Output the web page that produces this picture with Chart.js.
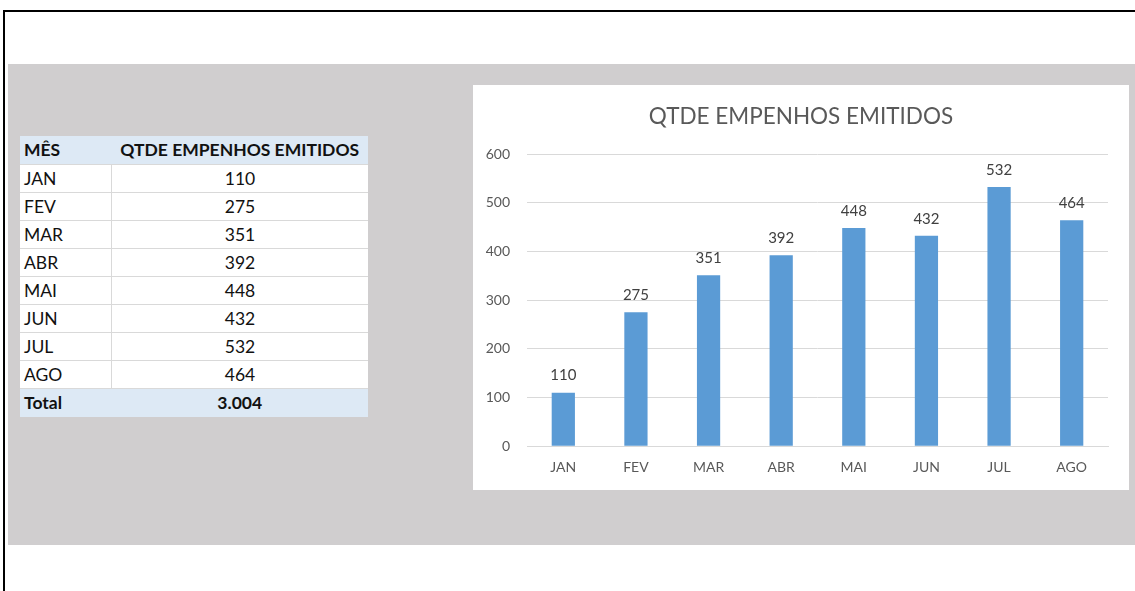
<!DOCTYPE html>
<html>
<head>
<meta charset="utf-8">
<script src="https://cdn.jsdelivr.net/npm/chart.js@4"></script>
<style>
  body { margin: 0; background: #fff; width: 1135px; height: 591px; position: relative; overflow: hidden; font-family: Lato, "Open Sans", sans-serif; }
  .frame-top { position: absolute; left: 3px; top: 10px; width: 1132px; height: 2px; background: #000; }
  .frame-left { position: absolute; left: 3px; top: 10px; width: 2px; height: 581px; background: #000; }
  .panel { position: absolute; left: 8px; top: 64px; width: 1127px; height: 481px; background: #d0cecf; }
  table { position: absolute; left: 20px; top: 136px; width: 348px; border-collapse: collapse; font-size: 17.5px; color: #111; background: #fff; }
  td, th { height: 27px; padding: 0 4px; border-bottom: 1px solid #d9d9d9; line-height: 20px; }
  th { background: #dde9f5; font-weight: bold; text-align: left; height: 28px; }
  th:nth-child(2) { text-align: center; }
  td:first-child { border-right: 1px solid #d9d9d9; width: 83px; }
  td:nth-child(2) { text-align: center; }
  tr.total td { background: #dde9f5; font-weight: bold; border-right: none; border-bottom: none; height: 28px; }
  .chart-box { position: absolute; left: 473px; top: 85px; width: 656px; height: 405px; background: #fff; }
</style>
</head>
<body>
<div class="frame-top"></div>
<div class="frame-left"></div>
<div class="panel"></div>
<table id="tbl"></table>
<div class="chart-box"><canvas id="chart-area" width="656" height="405"></canvas></div>
<script>
/* Qtde empenhos emitidos */

const meses = ["JAN", "FEV", "MAR", "ABR", "MAI", "JUN", "JUL", "AGO"];
const empenhos = [110, 275, 351, 392, 448, 432, 532, 464];
const yMax = 600;
const yStep = 100;

// tabela
const fmt = (n) => String(n).replace(/\B(?=(\d{3})+(?!\d))/g, ".");
let html = "<tr><th>MÊS</th><th>QTDE EMPENHOS EMITIDOS</th></tr>";
meses.forEach((m, i) => {
  html += "<tr><td>" + m + "</td><td>" + empenhos[i] + "</td></tr>";
});
const total = empenhos.reduce((a, b) => a + b, 0);
html += '<tr class="total"><td>Total</td><td>' + fmt(total) + "</td></tr>";
document.getElementById("tbl").innerHTML = html;

// rótulos acima das barras
const valueLabels = {
  id: "valueLabels",
  afterDatasetsDraw(chart) {
    const ctx = chart.ctx;
    const meta = chart.getDatasetMeta(0);
    ctx.save();
    ctx.font = "15px Lato";
    ctx.fillStyle = "#404040";
    ctx.textAlign = "center";
    ctx.textBaseline = "middle";
    meta.data.forEach((bar, i) => {
      ctx.fillText(empenhos[i], bar.x, bar.y - 17);
    });
    ctx.restore();
  },
};

let config = {
  type: "bar",
  data: {
    labels: meses,
    datasets: [
      {
        data: empenhos,
        backgroundColor: "#5b9bd5",
        barPercentage: 0.32,
        categoryPercentage: 1,
      },
    ],
  },
  options: {
    responsive: false,
    animation: false,
    layout: { padding: { left: 0, right: 0, top: 0, bottom: 1 } },
    plugins: {
      legend: { display: false },
      tooltip: { enabled: false },
      title: {
        display: true,
        text: "QTDE EMPENHOS EMITIDOS",
        color: "#595959",
        font: { family: "Lato", size: 22.5, weight: "normal" },
        padding: { top: 18, bottom: 24 },
      },
    },
    scales: {
      x: {
        grid: { display: false, drawTicks: false },
        border: { color: "#d9d9d9" },
        ticks: { color: "#595959", font: { family: "Lato", size: 14 }, padding: 13 },
      },
      y: {
        min: 0,
        max: yMax,
        afterFit: (s) => { s.width = 54; },
        grid: { color: "#d9d9d9", drawTicks: false },
        border: { display: false },
        ticks: { stepSize: yStep, color: "#595959", font: { family: "Lato", size: 14 }, padding: 17 },
      },
      // espaço vazio à direita do gráfico
      yRight: {
        type: "linear",
        position: "right",
        afterFit: (s) => { s.width = 21; },
        grid: { display: false, drawTicks: false },
        border: { display: false },
        ticks: { display: false },
      },
    },
  },
  plugins: [valueLabels],
};

window.onload = function () {
  let ctx = document.getElementById("chart-area").getContext("2d");
  window.myBar = new Chart(ctx, config);
};
</script>
</body>
</html>
